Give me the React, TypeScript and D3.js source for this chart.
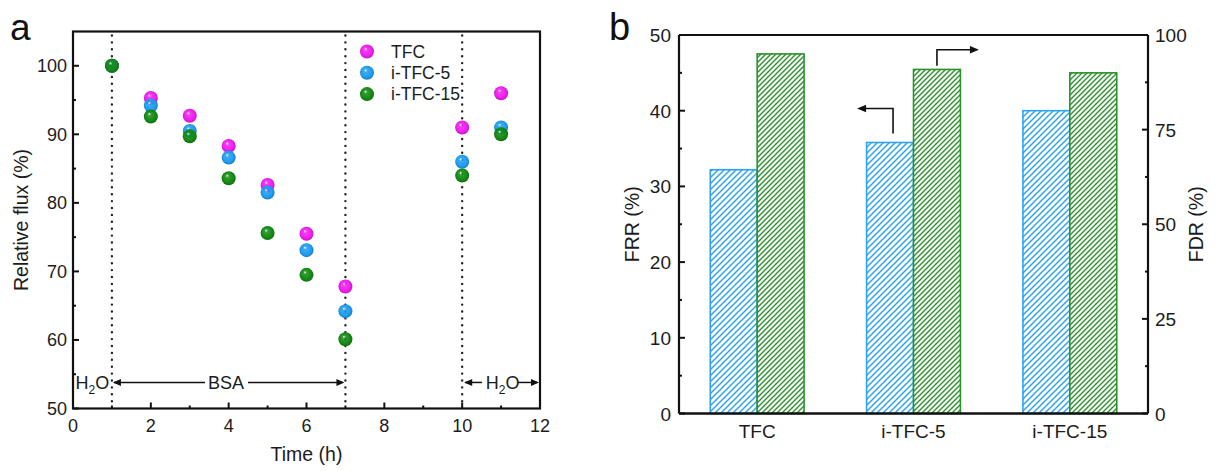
import React from "react";
import * as d3 from "d3";

// ---------- Panel a data ----------
const timePoints = [1, 2, 3, 4, 5, 6, 7, 10, 11];
const fluxTFC = [100, 95.3, 92.7, 88.3, 82.6, 75.5, 67.8, 91.0, 96.0];
const fluxITFC5 = [100, 94.2, 90.5, 86.6, 81.5, 73.1, 64.2, 86.0, 91.0];
const fluxITFC15 = [100, 92.6, 89.7, 83.6, 75.6, 69.5, 60.1, 84.0, 90.0];
const seriesNames = ["TFC", "i-TFC-5", "i-TFC-15"];
const seriesColors = ["#f01df0", "#1e9cf0", "#138a13"];
const xTicksA = [0, 2, 4, 6, 8, 10, 12];
const yTicksA = [50, 60, 70, 80, 90, 100];
const dividerTimes = [1, 7, 10];

// ---------- Panel b data ----------
const membranes = ["TFC", "i-TFC-5", "i-TFC-15"];
const frr = [32.2, 35.8, 40.0];
const fdr = [95.0, 90.9, 90.0];
const yTicksFRR = [0, 10, 20, 30, 40, 50];
const yTicksFDR = [0, 25, 50, 75, 100];

const FONT = "'Liberation Sans', Arial, Helvetica, sans-serif";
const TXT = "#1c1c1c";

function PanelA() {
  const left = 73, right = 540, top = 31.5, bottom = 408.5;
  const x = d3.scaleLinear().domain([0, 12]).range([left, right]);
  const y = d3.scaleLinear().domain([50, 105]).range([bottom, top]);
  const all = [fluxTFC, fluxITFC5, fluxITFC15];
  const minorX = d3.range(1, 12, 2);
  const minorY = d3.range(55, 105, 10);
  const arrowY = y(53.8);
  return (
    <g>
      <text x={10} y={40} fontSize={37} fontFamily={FONT} fill="#111">a</text>
      {/* dotted dividers */}
      {dividerTimes.map((t) => (
        <line key={t} x1={x(t)} x2={x(t)} y1={top + 4} y2={bottom - 2}
          stroke="#222" strokeWidth={2.4} strokeDasharray="0 6.9" strokeLinecap="round" />
      ))}
      {/* ticks */}
      {xTicksA.map((t) => (
        <line key={"xt" + t} x1={x(t)} x2={x(t)} y1={bottom} y2={bottom - 6} stroke="#111" strokeWidth={2} />
      ))}
      {minorX.map((t) => (
        <line key={"xm" + t} x1={x(t)} x2={x(t)} y1={bottom} y2={bottom - 3} stroke="#111" strokeWidth={2} />
      ))}
      {yTicksA.map((t) => (
        <line key={"yt" + t} x1={left} x2={left + 6} y1={y(t)} y2={y(t)} stroke="#111" strokeWidth={2} />
      ))}
      {minorY.map((t) => (
        <line key={"ym" + t} x1={left} x2={left + 3} y1={y(t)} y2={y(t)} stroke="#111" strokeWidth={2} />
      ))}
      <rect x={left} y={top} width={right - left} height={bottom - top} fill="none" stroke="#111" strokeWidth={2.2} />
      {xTicksA.map((t) => (
        <text key={"xl" + t} x={x(t)} y={bottom + 23} textAnchor="middle" fontSize={18} fontFamily={FONT} fill={TXT}>{t}</text>
      ))}
      {yTicksA.map((t) => (
        <text key={"yl" + t} x={left - 6} y={y(t) + 6.5} textAnchor="end" fontSize={18} fontFamily={FONT} fill={TXT}>{t}</text>
      ))}
      <text x={x(6)} y={461} textAnchor="middle" fontSize={19.5} fontFamily={FONT} fill={TXT}>Time (h)</text>
      <text transform={`translate(${28},${(top + bottom) / 2}) rotate(-90)`} textAnchor="middle" fontSize={19.5} fontFamily={FONT} fill={TXT}>Relative flux (%)</text>
      {/* points */}
      {all.map((vals, si) => (
        <g key={si}>
          {vals.map((v, i) => (
            <circle key={i} cx={x(timePoints[i])} cy={y(v)} r={7} fill={`url(#ball${si})`} />
          ))}
        </g>
      ))}
      {/* legend */}
      {seriesNames.map((n, i) => (
        <g key={n}>
          <circle cx={367} cy={51.5 + i * 21.3} r={7} fill={`url(#ball${i})`} />
          <text x={391} y={51.5 + i * 21.3 + 6.3} fontSize={17.5} fontFamily={FONT} fill={TXT}>{n}</text>
        </g>
      ))}
      {/* phase annotations */}
      <text x={x(0.5)} y={arrowY + 7} textAnchor="middle" fontSize={18} fontFamily={FONT} fill={TXT}>
        H<tspan fontSize={12} dy={5}>2</tspan><tspan dy={-5}>O</tspan>
      </text>
      <line x1={x(1) + 2} x2={205} y1={arrowY} y2={arrowY} stroke="#111" strokeWidth={1.5} />
      <path d={`M${x(1) + 1},${arrowY} l8,-3.5 l0,7 z`} fill="#111" />
      <text x={x(3.93)} y={arrowY + 7} textAnchor="middle" fontSize={18} fontFamily={FONT} fill={TXT}>BSA</text>
      <line x1={248} x2={x(7) - 3} y1={arrowY} y2={arrowY} stroke="#111" strokeWidth={1.5} />
      <path d={`M${x(7) - 1},${arrowY} l-8,-3.5 l0,7 z`} fill="#111" />
      <line x1={x(10) + 3} x2={482} y1={arrowY} y2={arrowY} stroke="#111" strokeWidth={1.5} />
      <path d={`M${x(10) + 2},${arrowY} l8,-3.5 l0,7 z`} fill="#111" />
      <text x={x(11.04)} y={arrowY + 7} textAnchor="middle" fontSize={18} fontFamily={FONT} fill={TXT}>
        H<tspan fontSize={12} dy={5}>2</tspan><tspan dy={-5}>O</tspan>
      </text>
      <line x1={518} x2={x(12) - 3} y1={arrowY} y2={arrowY} stroke="#111" strokeWidth={1.5} />
      <path d={`M${x(12) - 1},${arrowY} l-8,-3.5 l0,7 z`} fill="#111" />
    </g>
  );
}

function PanelB() {
  const left = 679, right = 1148, top = 35, bottom = 413.5;
  const xb = d3.scaleBand().domain(membranes).range([left, right]).padding(0);
  const yL = d3.scaleLinear().domain([0, 50]).range([bottom, top]);
  const yR = d3.scaleLinear().domain([0, 100]).range([bottom, top]);
  const bw = xb.bandwidth() * 0.3;
  const minorL = d3.range(5, 50, 10);
  const minorR = d3.range(12.5, 100, 25);
  const blue = "#2ea3ef";
  const green = "#2a912a";
  // arrows positions from scales
  const a1x = (xb("i-TFC-5") as number) + xb.bandwidth() / 2 - bw / 2 + 3;
  const a2x = (xb("i-TFC-5") as number) + xb.bandwidth() / 2 + bw / 2;
  return (
    <g>
      <text x={609} y={40} fontSize={38} fontFamily={FONT} fill="#111">b</text>
      {membranes.map((m, i) => {
        const cx = (xb(m) as number) + xb.bandwidth() / 2;
        return (
          <g key={m}>
            <rect x={cx - bw} y={yL(frr[i])} width={bw} height={bottom - yL(frr[i])} fill="url(#hatchBlue)" stroke={blue} strokeWidth={1.6} />
            <rect x={cx} y={yR(fdr[i])} width={bw} height={bottom - yR(fdr[i])} fill="url(#hatchGreen)" stroke={green} strokeWidth={1.6} />
            <text x={cx} y={bottom + 24} textAnchor="middle" fontSize={19} fontFamily={FONT} fill={TXT}>{m}</text>
          </g>
        );
      })}
      {/* axes */}
      <line x1={left} x2={right} y1={top} y2={top} stroke="#111" strokeWidth={2.2} />
      <line x1={left} x2={right} y1={bottom} y2={bottom} stroke="#111" strokeWidth={2.4} />
      <line x1={left} x2={left} y1={top} y2={bottom} stroke="#111" strokeWidth={2.2} />
      <line x1={right} x2={right} y1={top} y2={bottom} stroke="#111" strokeWidth={2.2} />
      {yTicksFRR.map((t) => (
        <g key={"l" + t}>
          <line x1={left} x2={left + 6} y1={yL(t)} y2={yL(t)} stroke="#111" strokeWidth={2} />
          <text x={left - 8} y={yL(t) + 7} textAnchor="end" fontSize={19} fontFamily={FONT} fill={TXT}>{t}</text>
        </g>
      ))}
      {minorL.map((t) => (
        <line key={"lm" + t} x1={left} x2={left + 3} y1={yL(t)} y2={yL(t)} stroke="#111" strokeWidth={2} />
      ))}
      {yTicksFDR.map((t) => (
        <g key={"r" + t}>
          <line x1={right} x2={right - 6} y1={yR(t)} y2={yR(t)} stroke="#111" strokeWidth={2} />
          <text x={right + 7} y={yR(t) + 7} textAnchor="start" fontSize={19} fontFamily={FONT} fill={TXT}>{t}</text>
        </g>
      ))}
      {minorR.map((t) => (
        <line key={"rm" + t} x1={right} x2={right - 3} y1={yR(t)} y2={yR(t)} stroke="#111" strokeWidth={2} />
      ))}
      <text transform={`translate(${639},${(top + bottom) / 2}) rotate(-90)`} textAnchor="middle" fontSize={19.5} fontFamily={FONT} fill={TXT}>FRR (%)</text>
      <text transform={`translate(${1203},${(top + bottom) / 2}) rotate(-90)`} textAnchor="middle" fontSize={19.5} fontFamily={FONT} fill={TXT}>FDR (%)</text>
      {/* axis-indicating arrows */}
      <path d={`M${a1x},${yL(37)} V${yL(40.3)} H${a1x - 30}`} fill="none" stroke="#111" strokeWidth={1.6} />
      <path d={`M${a1x - 36},${yL(40.3)} l9,-3.8 l0,7.6 z`} fill="#111" />
      <path d={`M${a2x},${yR(91.9)} V${yR(96.1)} H${a2x + 35}`} fill="none" stroke="#111" strokeWidth={1.6} />
      <path d={`M${a2x + 42},${yR(96.1)} l-9,-3.8 l0,7.6 z`} fill="#111" />
    </g>
  );
}

export default function App() {
  return (
    <svg width={1218} height={471} viewBox="0 0 1218 471"
      style={{ position: "absolute", left: 0, top: 0, display: "block", background: "#fff" }}>
      <defs>
        {seriesColors.map((c, i) => (
          <radialGradient key={i} id={`ball${i}`} cx="50%" cy="50%" r="55%" fx="38%" fy="30%">
            <stop offset="0%" stopColor="#ffffff" />
            <stop offset="22%" stopColor={c} stopOpacity={0.85} />
            <stop offset="70%" stopColor={c} />
            <stop offset="100%" stopColor={d3.color(c)!.darker(0.8).toString()} />
          </radialGradient>
        ))}
        <pattern id="hatchBlue" patternUnits="userSpaceOnUse" width={6} height={6}>
          <rect width={6} height={6} fill="#fff" />
          <path d="M0,6 L6,0 M-1,1 L1,-1 M5,7 L7,5" stroke="#2ea3ef" strokeWidth={1.5} />
        </pattern>
        <pattern id="hatchGreen" patternUnits="userSpaceOnUse" width={5} height={5}>
          <rect width={5} height={5} fill="#fff" />
          <path d="M0,5 L5,0 M-1,1 L1,-1 M4,6 L6,4" stroke="#2a912a" strokeWidth={1.4} />
        </pattern>
      </defs>
      <rect width={1218} height={471} fill="#fff" />
      <PanelA />
      <PanelB />
    </svg>
  );
}
